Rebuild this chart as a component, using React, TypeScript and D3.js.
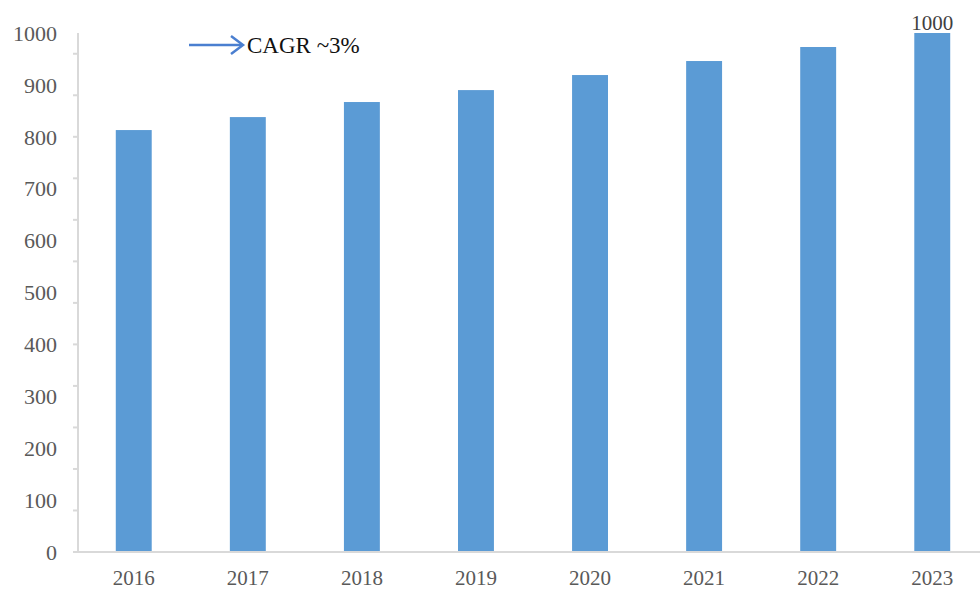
import React from "react";
import * as d3 from "d3";

const years = ["2016", "2017", "2018", "2019", "2020", "2021", "2022", "2023"];
const values = [813, 838, 867, 890, 919, 946, 973, 1000];
const yLabelTicks = [0, 100, 200, 300, 400, 500, 600, 700, 800, 900, 1000];
const yMarkTicks = [0, 80, 160, 240, 320, 400, 480, 560, 640, 720, 800, 880, 960];
const annotation = "CAGR ~3%";
const topLabel = "1000";

const W = 980;
const H = 590;

export default function App() {
  const x = d3.scaleBand<string>().domain(years).range([77, 989]).paddingInner(0.685).paddingOuter(0.34);
  const y = d3.scaleLinear().domain([0, 1000]).range([552, 33]);
  const axisColor = "#d9d9d9";
  const labelColor = "#595959";
  const font = "'Liberation Serif', 'Times New Roman', serif";
  const last = years[years.length - 1];
  return (
    <svg width={W} height={H} style={{ position: "absolute", left: 0, top: 0, background: "#fff" }}>
      {/* y axis line */}
      <line x1={78} x2={78} y1={y(1000)} y2={y(0)} stroke={axisColor} strokeWidth={2} />
      {yMarkTicks.map((t) => (
        <line key={"m" + t} x1={73} x2={78} y1={y(t)} y2={y(t)} stroke={axisColor} strokeWidth={2} />
      ))}
      {yLabelTicks.map((t) => (
        <text key={"l" + t} x={57} y={y(t)} dy="0.35em" textAnchor="end" fontFamily={font} fontSize={22} fill={labelColor}>
          {t}
        </text>
      ))}
      {/* bars */}
      {years.map((yr, i) => (
        <rect key={yr} x={x(yr)} y={y(values[i])} width={x.bandwidth()} height={y(0) - y(values[i])} fill="#5b9bd5" />
      ))}
      {/* x axis line */}
      <line x1={77} x2={980} y1={y(0)} y2={y(0)} stroke={axisColor} strokeWidth={2} />
      {years.map((yr) => (
        <text key={"x" + yr} x={(x(yr) as number) + x.bandwidth() / 2} y={585} textAnchor="middle" fontFamily={font} fontSize={21} fill={labelColor}>
          {yr}
        </text>
      ))}
      {/* top label */}
      <text x={(x(last) as number) + x.bandwidth() / 2} y={y(values[values.length - 1]) - 10} dy="0.35em" textAnchor="middle" fontFamily={font} fontSize={21} fill="#404040">
        {topLabel}
      </text>
      {/* CAGR arrow */}
      <line x1={189} x2={242} y1={45} y2={45} stroke="#4a7fd0" strokeWidth={2.5} />
      <path d="M231,36 L243,45 L231,54" fill="none" stroke="#4a7fd0" strokeWidth={2.5} />
      <text x={247} y={53} fontFamily={font} fontSize={23} fill="#111">
        {annotation}
      </text>
    </svg>
  );
}
